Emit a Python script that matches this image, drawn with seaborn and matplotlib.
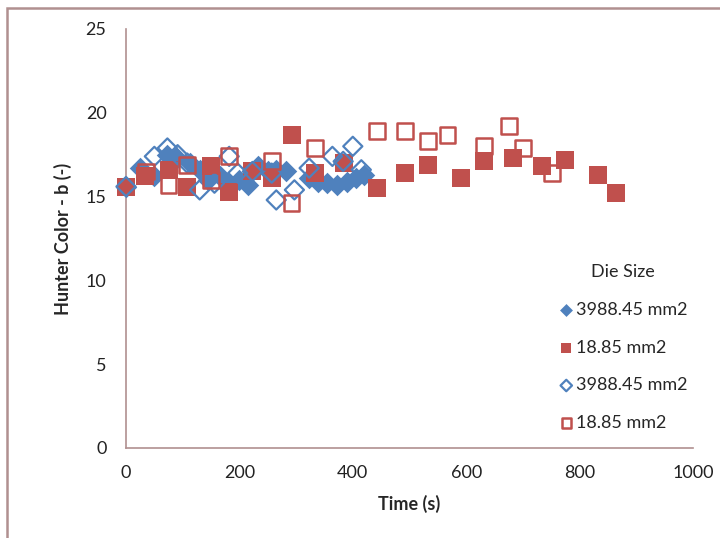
import matplotlib
matplotlib.use("Agg")
import matplotlib.pyplot as plt
import seaborn as sns
from matplotlib.patches import Rectangle

# 3988.45 mm2, filled diamonds
big_t = [0, 24, 50, 73, 90, 112, 130, 145, 165, 182, 200, 215, 232, 250, 265, 282,
         322, 338, 355, 372, 390, 405, 420]
big_b = [15.6, 16.7, 16.2, 17.5, 17.3, 17.0, 16.6, 16.0, 16.2, 15.8, 16.0, 15.7, 16.8,
         16.5, 16.6, 16.5, 16.1, 15.9, 15.8, 15.7, 15.9, 16.1, 16.3]

# 18.85 mm2, filled squares
small_t = [0, 33, 75, 108, 150, 182, 223, 258, 292, 333, 384, 442, 492, 532, 590,
           632, 682, 733, 775, 833, 865]
small_b = [15.6, 16.2, 16.6, 15.6, 16.8, 15.3, 16.5, 16.1, 18.7, 16.4, 17.0, 15.5,
           16.4, 16.9, 16.1, 17.1, 17.3, 16.8, 17.2, 16.3, 15.2]

# 3988.45 mm2, open diamonds
big_t2 = [0, 50, 73, 91, 108, 130, 156, 182, 197, 223, 257, 265, 297, 323, 364, 383, 400, 415]
big_b2 = [15.6, 17.4, 17.9, 17.5, 17.0, 15.4, 15.8, 17.4, 16.4, 16.5, 16.4, 14.8, 15.4,
          16.7, 17.4, 17.1, 18.0, 16.6]

# 18.85 mm2, open squares
small_t2 = [35, 75, 108, 150, 182, 258, 292, 333, 442, 492, 532, 567, 632, 675, 700, 751]
small_b2 = [16.5, 15.7, 16.9, 16.0, 17.4, 17.1, 14.6, 17.9, 18.9, 18.9, 18.3, 18.7,
            18.0, 19.2, 17.9, 16.4]

blue = "#4F81BD"
red = "#C0504D"
axis_col = "#B09090"

sns.set_style("white")
plt.rcParams["font.family"] = ["Lato", "DejaVu Sans"]

fig = plt.figure(figsize=(7.2, 5.38), dpi=100)
ax = fig.add_axes([126 / 720, 1 - 448 / 538, (693 - 126) / 720, (448 - 29) / 538])

sns.scatterplot(x=big_t, y=big_b, marker="D", s=120, color=blue, edgecolor=blue,
                linewidth=0, label="3988.45 mm2", ax=ax, clip_on=False, zorder=3)
sns.scatterplot(x=small_t, y=small_b, marker="s", s=150, color=red, edgecolor=red,
                linewidth=0, label="18.85 mm2", ax=ax, clip_on=False, zorder=3)
sns.scatterplot(x=big_t2, y=big_b2, marker="D", s=95, facecolor="none", edgecolor=blue,
                linewidth=1.6, label="3988.45 mm2", ax=ax, clip_on=False, zorder=4)
sns.scatterplot(x=small_t2, y=small_b2, marker="s", s=130, facecolor="none", edgecolor=red,
                linewidth=1.8, label="18.85 mm2", ax=ax, clip_on=False, zorder=4)

ax.set_xlim(0, 1000)
ax.set_ylim(0, 25)
ax.set_xticks(range(0, 1001, 200))
ax.set_yticks(range(0, 26, 5))
ax.tick_params(axis="both", labelsize=13, colors="#222222", length=4, width=1,
               color=axis_col, direction="out")
ax.tick_params(axis="y", pad=10)
ax.tick_params(axis="x", pad=8)
for side in ["top", "right"]:
    ax.spines[side].set_visible(False)
for side in ["left", "bottom"]:
    ax.spines[side].set_color(axis_col)
    ax.spines[side].set_linewidth(1.2)

ax.set_xlabel("Time (s)", fontsize=13, fontweight="bold", labelpad=10)
ax.set_ylabel("Hunter Color - b (-)", fontsize=13, fontweight="bold", labelpad=10)

leg = ax.legend(title="Die Size", loc="upper left", bbox_to_anchor=(541 / 720, 1 - 248 / 538),
                bbox_transform=fig.transFigure, frameon=False, fontsize=13,
                title_fontsize=13, labelspacing=1.2, handletextpad=0.05,
                handlelength=1.0, markerscale=0.6)

fig.patches.append(Rectangle((7 / 720, -0.1), 1.2, 1.1 - 8 / 538, transform=fig.transFigure,
                             fill=False, edgecolor=axis_col, linewidth=1.8))

fig.savefig("out.png", dpi=100)
